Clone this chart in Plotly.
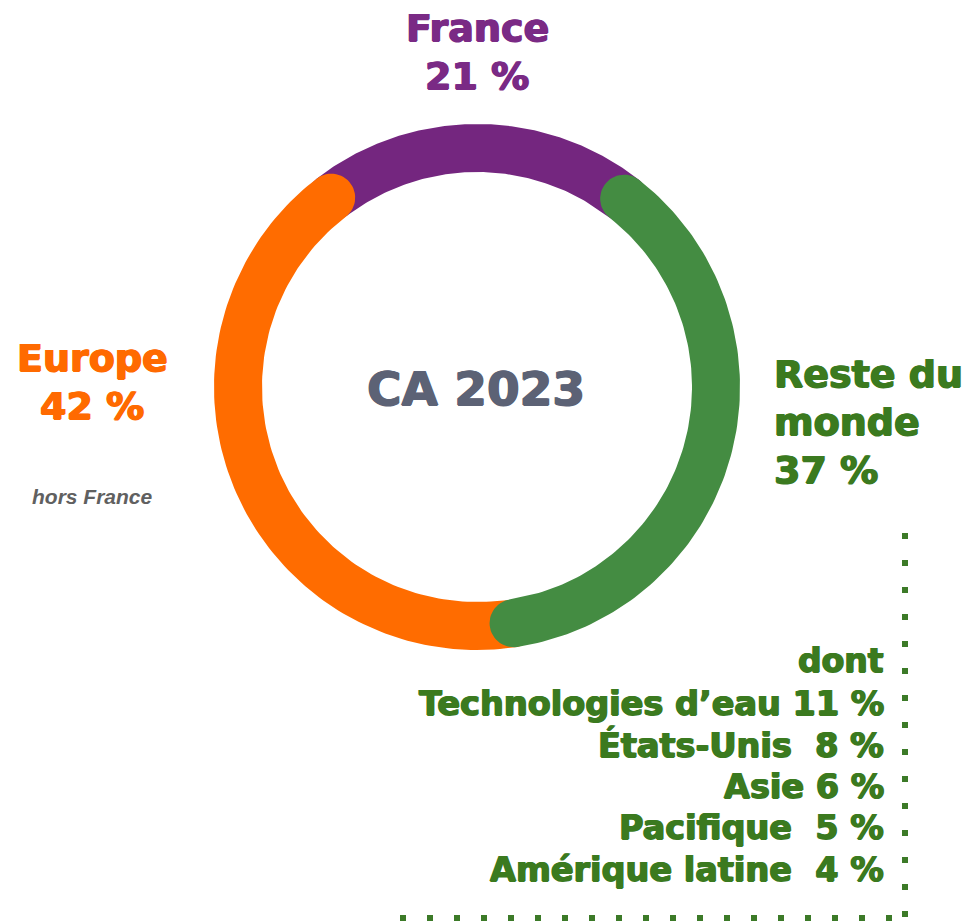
import numpy as np
import plotly.graph_objects as go

# CA 2023 split by region (clockwise from the top-right)
regions = ["Reste du monde", "Europe", "France"]
shares = [37, 42, 21]
ring_colors = ["#448c42", "#ff6c00", "#74267f"]
text_colors = ["#3b7a1f", "#ff6a00", "#7a2a85"]

# "dont" breakdown of Reste du monde
detail_labels = ["Technologies d\u2019eau", "États-Unis\u00a0", "Asie", "Pacifique\u00a0", "Amérique latine\u00a0"]
detail_values = [11, 8, 6, 5, 4]

W, H = 969, 924
CX, CY = 477, 387          # ring centre (pixels)
R_OUT, R_IN = 263, 215
START_DEG = 38             # where the first slice begins, clockwise from 12 o'clock
FONT = "DejaVu Sans, Verdana, sans-serif"


def rounded_arc(a0, a1, n=120):
    """closed outline of a ring slice with round ends, angles in degrees clockwise from top"""
    rm = (R_OUT + R_IN) / 2
    h = (R_OUT - R_IN) / 2
    t0, t1 = np.radians(a0), np.radians(a1)
    th = np.linspace(t0, t1, n)
    xs, ys = [], []
    # outer edge
    xs += list(CX + R_OUT * np.sin(th)); ys += list(CY - R_OUT * np.cos(th))
    # end cap
    u = np.array([np.sin(t1), -np.cos(t1)]); t = np.array([np.cos(t1), np.sin(t1)])
    c = np.array([CX, CY]) + rm * u
    for p in np.linspace(0, np.pi, 30):
        q = c + h * (np.cos(p) * u + np.sin(p) * t)
        xs.append(q[0]); ys.append(q[1])
    # inner edge back
    xs += list(CX + R_IN * np.sin(th[::-1])); ys += list(CY - R_IN * np.cos(th[::-1]))
    # start cap
    u = np.array([np.sin(t0), -np.cos(t0)]); t = np.array([np.cos(t0), np.sin(t0)])
    c = np.array([CX, CY]) + rm * u
    for p in np.linspace(0, np.pi, 30):
        q = c + h * (-np.cos(p) * u - np.sin(p) * t)
        xs.append(q[0]); ys.append(q[1])
    return xs, ys


fig = go.Figure()

# slice angles
bounds = []
a = START_DEG
for s in shares:
    bounds.append((a, a + s * 3.6))
    a += s * 3.6

# draw in reverse so the first slice sits on top of its neighbours
for i in reversed(range(len(shares))):
    xs, ys = rounded_arc(*bounds[i])
    fig.add_trace(go.Scatter(x=xs, y=ys, fill="toself", fillcolor=ring_colors[i],
                             mode="lines", line=dict(width=0), hoverinfo="skip",
                             showlegend=False))


def label(txt, x, y, color, size, xanchor="center", weight=700, italic=False,
          family=FONT, heavy=True):
    # a thin same-colour shadow thickens the strokes a little (the original uses a black weight)
    sh = f"0.8px 0 0 {color}, -0.8px 0 0 {color}, 0 0.6px 0 {color}" if heavy else "none"
    fig.add_annotation(x=x, y=y, xref="x", yref="y", text=txt, showarrow=False,
                       xanchor=xanchor, yanchor="middle",
                       font=dict(family=family, size=size, color=color, weight=weight,
                                 style="italic" if italic else "normal", shadow=sh))


# France
label("France", 477, 28, text_colors[2], 38)
label(f"{shares[2]} %", 477, 76, text_colors[2], 38)
# Europe
label("Europe", 92, 358, text_colors[1], 38)
label(f"{shares[1]} %", 92, 406, text_colors[1], 38)
label("hors France", 92, 496, "#606060", 21, italic=True,
      family="Liberation Sans, Arial, sans-serif", heavy=False)
# Reste du monde
label("Reste du", 772, 374, text_colors[0], 38, xanchor="left")
label("monde", 772, 422, text_colors[0], 38, xanchor="left")
label(f"{shares[0]} %", 772, 470, text_colors[0], 38, xanchor="left")
# centre
label("CA 2023", 476, 388, "#5c6275", 47)

# detail block
label("dont", 886, 660, text_colors[0], 33, xanchor="right")
for k, (lab, v) in enumerate(zip(detail_labels, detail_values)):
    label(f"{lab} {v} %", 886, 703 + k * 41.5, text_colors[0], 33.5, xanchor="right")

# dotted bracket
dot = dict(color="#3c7a28", width=6, dash="6px,21px")
fig.add_shape(type="line", x0=905, x1=905, y0=533, y1=924, xref="x", yref="y", line=dot)
fig.add_shape(type="line", x0=400, x1=905, y0=918, y1=918, xref="x", yref="y", line=dot)

fig.update_layout(
    width=W, height=H, margin=dict(l=0, r=0, t=0, b=0),
    paper_bgcolor="white", plot_bgcolor="white",
    xaxis=dict(range=[0, W], visible=False, fixedrange=True),
    yaxis=dict(range=[H, 0], visible=False, fixedrange=True),
)

fig.write_html("out.html", config={"displayModeBar": False},
               post_script="document.body.style.margin = '0';")
